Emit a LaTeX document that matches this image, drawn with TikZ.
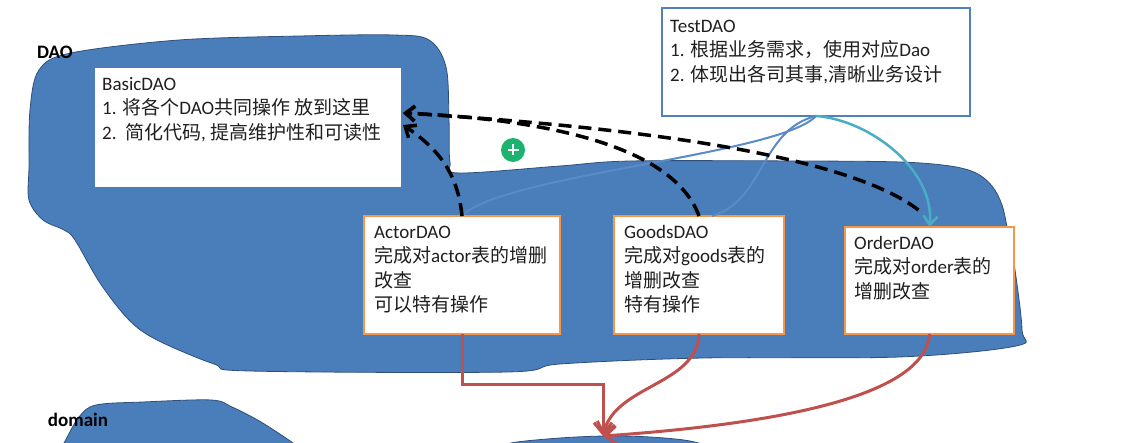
\documentclass[tikz,border=0pt]{standalone}
\usepackage{fontspec}
\setmainfont{Carlito}
\newfontfamily\zhfont{Noto Sans CJK SC}
\newcommand\zh[1]{{\zhfont #1}}
\usetikzlibrary{arrows.meta}
\definecolor{blobblue}{HTML}{4A7EBB}
\definecolor{blobedge}{HTML}{2F4F7A}
\definecolor{curveblue}{HTML}{5A8AC8}
\definecolor{tealc}{HTML}{4BACC6}
\definecolor{redarr}{HTML}{C0504D}
\definecolor{orangeb}{HTML}{F79646}
\definecolor{testb}{HTML}{4F81BD}
\definecolor{txtc}{HTML}{1F1F1F}
\definecolor{curgreen}{HTML}{1DB36E}
\begin{document}
\begin{tikzpicture}[x=1pt,y=-1pt,
 blob/.style={fill=blobblue,draw=blobedge,line width=0.8pt},
 box/.style={fill=white,inner sep=0pt,outer sep=0pt},
 daobox/.style={box,draw=orangeb,line width=2pt},
 boxtext/.style={anchor=north west,inner sep=0pt,align=left,text=txtc,font=\fontsize{19}{24.6}\selectfont},
 lbl/.style={font=\fontsize{19}{22}\selectfont\bfseries,inner sep=0pt},
 dep/.style={line width=3.5pt,dash pattern=on 13pt off 7pt,-{Straight Barb[length=9pt,width=15pt]}},
 use/.style={curveblue,line width=2pt},
 redarrow/.style={redarr,line width=3pt,-{Straight Barb[length=11pt,width=18pt]}}
]
\useasboundingbox (0,0) rectangle (1122,443);
\fill[white] (0,0) rectangle (1122,443);
\clip (0,0) rectangle (1122,443);

% DAO package blob
\draw[blob] plot[smooth cycle, tension=0.55] coordinates {
 (39,70) (71,53) (179,40) (300,36) (393,35) (429,40) (446,67) (449,120) (450,162)
 (459,173) (560,166) (631,161) (800,161) (900,162) (950,166) (976,173) (992,186)
 (1002,205) (1008,232) (1015,270) (1022,330) (1016,346) (899,357) (703,358)
 (560,364) (507,372) (250,371) (214,364) (157,340) (129,320) (100,283) (75,240)
 (64,230) (43,220) (29,200) (29,167) (30,110)};
% domain blobs
\draw[blob] plot[smooth, tension=0.55] coordinates {
 (60,450) (64,443) (79,417) (96,405) (143,402) (211,400) (232,407) (261,422) (293,443) (300,450)} -- cycle;
\draw[blob] plot[smooth, tension=0.55] coordinates {
 (505,450) (511,443) (560,438) (606,436) (650,437) (690,441) (720,450)} -- cycle;

\node[lbl] (daolbl) at (55,52) {DAO};
\node[lbl] (domlbl) at (78,420) {domain};

% boxes
\node[box, minimum width=306pt, minimum height=119pt] (basic) at (248,127.5) {};
\node[box, draw=testb, line width=1.5pt, minimum width=308pt, minimum height=108pt] (test) at (816,62) {};
\node[daobox, minimum width=196pt, minimum height=118pt] (actor) at (462,275) {};
\node[daobox, minimum width=170pt, minimum height=118pt] (goods) at (699,275) {};
\node[daobox, minimum width=169pt, minimum height=107pt] (order) at (929.5,280.5) {};

\node[boxtext] (basictxt) at ([xshift=7pt,yshift=-7pt]basic.north west)
 {\rule{0pt}{15pt}BasicDAO\\1. \zh{将各个}DAO\zh{共同操作 放到这里}\\2.\ \ \zh{简化代码}, \zh{提高维护性和可读性}};
\node[boxtext] (testtxt) at ([xshift=8pt,yshift=-9pt]test.north west)
 {\rule{0pt}{15pt}TestDAO\\1. \zh{根据业务需求，使用对应}Dao\\2. \zh{体现出各司其事},\zh{清晰业务设计}};
\node[boxtext] (actortxt) at ([xshift=10pt,yshift=-7pt]actor.north west)
 {\rule{0pt}{15pt}ActorDAO\\\zh{完成对}actor\zh{表的增删}\\\zh{改查}\\\zh{可以特有操作}};
\node[boxtext] (goodstxt) at ([xshift=10pt,yshift=-7pt]goods.north west)
 {\rule{0pt}{15pt}GoodsDAO\\\zh{完成对}goods\zh{表的}\\\zh{增删改查}\\\zh{特有操作}};
\node[boxtext] (ordertxt) at ([xshift=9pt,yshift=-7pt]order.north west)
 {\rule{0pt}{15pt}OrderDAO\\\zh{完成对}order\zh{表的}\\\zh{增删改查}};

% coordinates
\coordinate (tipA) at ([xshift=2pt,yshift=2.5pt]basic.east);
\coordinate (tipB) at ([xshift=2pt,yshift=14.5pt]basic.east);
\coordinate (oend) at ([xshift=-11pt,yshift=17pt]order.north);
\coordinate (dom) at (603,436);

% blue usage curves from TestDAO
\draw[use] (test.south) .. controls (780,155) and (500,175) .. (actor.north);
\draw[use] (test.south) .. controls (760,130) and (765,200) .. ([xshift=13pt]goods.north);
\draw[tealc, line width=2.5pt, -{Straight Barb[length=9pt,width=14pt]}]
 (test.south) .. controls (870,120) and (935,170) .. (order.north);

% dashed dependency arrows to BasicDAO
\draw[dep] (actor.north) .. controls (458,175) and (440,150) .. (tipA);
\draw[dep] (goods.north) .. controls (675,150) and (560,120) .. (tipB);
\draw[dep] (oend) .. controls (840,150) and (600,125) .. (tipB);

% red arrows to domain
\draw[redarrow] (actor.south) -- ++(0,51) -| (dom);
\draw[redarrow] (goods.south) .. controls (697,385) and (615,385) .. (dom);
\draw[redarrow] (order.south) .. controls (925,400) and (760,425) .. (dom);

% cursor
\fill[curgreen] (513,150) circle (12pt);
\draw[white, line width=2.8pt] (507.5,150) -- (518.5,150) (513,144.5) -- (513,155.5);
\end{tikzpicture}
\end{document}
